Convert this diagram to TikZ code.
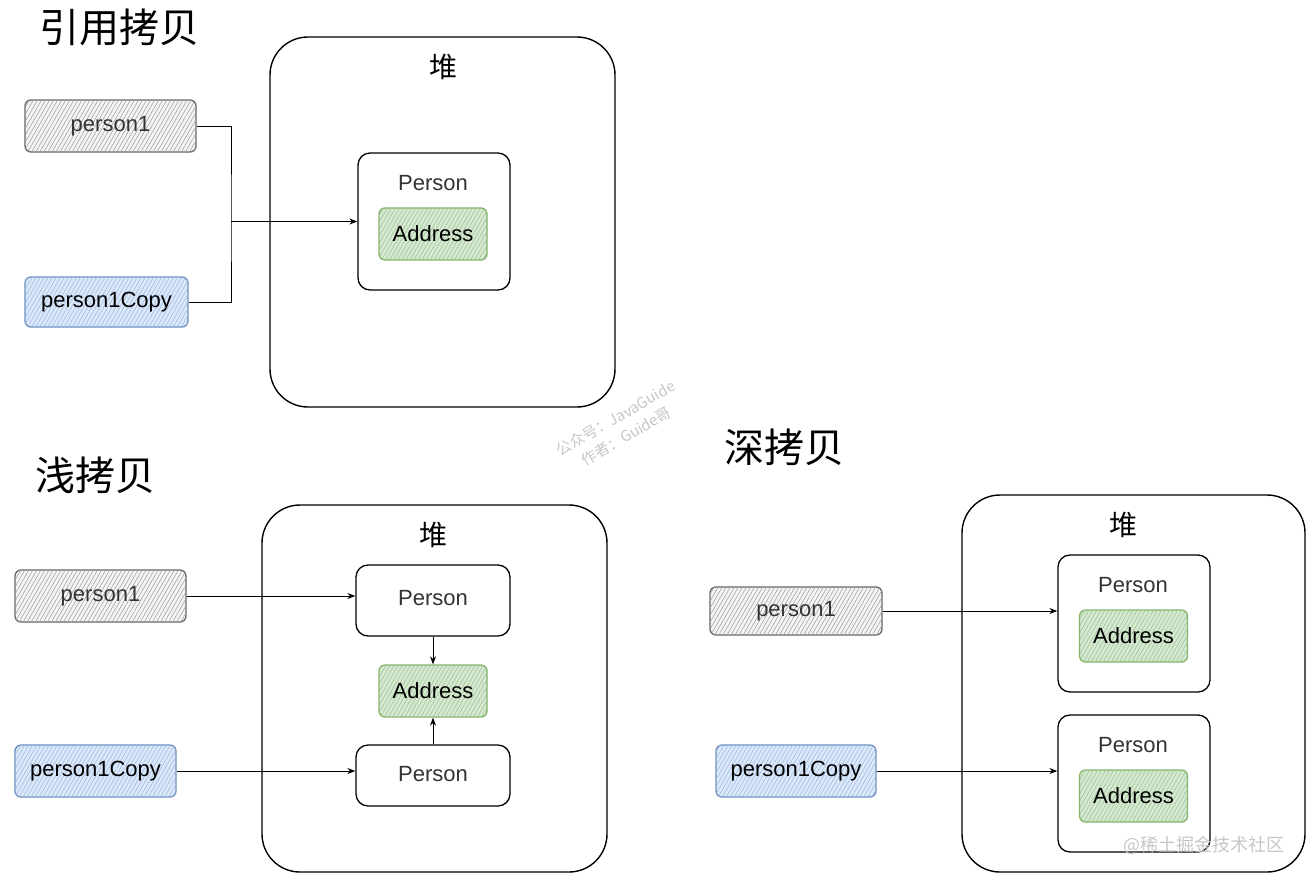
\documentclass[tikz,border=0pt]{standalone}
\usepackage{fontspec}
\setmainfont{Liberation Sans}
\newfontfamily\cjk{Noto Sans CJK SC}
\usetikzlibrary{arrows.meta,patterns.meta}

\definecolor{grayline}{HTML}{666666}
\definecolor{grayfill}{HTML}{F5F5F5}
\definecolor{blueline}{HTML}{6C8EBF}
\definecolor{bluefill}{HTML}{DAE8FC}
\definecolor{greenline}{HTML}{82B366}
\definecolor{greenfill}{HTML}{D5E8D4}
\definecolor{txt}{HTML}{333333}

\tikzset{
	title/.style={font=\cjk\fontsize{40}{44}\selectfont},
	heaplabel/.style={font=\cjk\fontsize{28}{30}\selectfont},
	heap/.style={draw, line width=1.4pt, rounded corners=38pt, inner sep=0pt},
	obj/.style={draw, line width=1.3pt, rounded corners=12pt, inner sep=0pt, text=txt, font=\fontsize{22}{24}\selectfont},
	var/.style={rounded corners=6pt, line width=1.3pt, inner sep=0pt, font=\fontsize{22}{24}\selectfont},
	hatched/.style={postaction={pattern={Lines[angle=60,distance=3.5pt,line width=0.6pt]}, pattern color=#1}},
	grayvar/.style={var, draw=grayline, fill=grayfill, hatched=grayline!60, text=txt},
	bluevar/.style={var, draw=blueline, fill=bluefill, hatched=blueline!60},
	addr/.style={var, draw=greenline, fill=greenfill, hatched=greenline!75, minimum width=108, minimum height=52},
	arr/.style={-{Stealth[length=8pt,width=6pt]}, line width=1pt},
	conn/.style={line width=1pt},
	watermark/.style={text=gray!45, font=\cjk\fontsize{15}{21}\selectfont}
}

\begin{document}
\begin{tikzpicture}[x=1pt,y=-1pt]
	\useasboundingbox (0,0) rectangle (1308,879);
	
	% reference copy
	\node[title] (titleA) at (119,27) {引用拷贝};
	\node[heap, minimum width=345, minimum height=370] (heapA) at (442.5,222) {};
	\node[heaplabel] (heapAlabel) at (443,67) {堆};
	\node[obj, minimum width=152, minimum height=137] (persA) at (434,221.5) {};
	\node[obj, draw=none] (persAlabel) at (433,183) {Person};
	\node[addr] (addrA) at (433,234) {Address};
	\node[grayvar, minimum width=171, minimum height=52] (p1A) at (110.5,126) {person1};
	\node[bluevar, minimum width=163, minimum height=50] (p1cA) at (106.5,302) {person1Copy};
	\coordinate (joinA) at (231,221.5);
	
	\draw[conn] (p1A.east) -| (joinA) |- (p1cA.east);
	\draw[arr] (joinA) -- (persA.west);
	
	% shallow copy
	\node[title] (titleB) at (95,475) {浅拷贝};
	\node[heap, minimum width=345, minimum height=367] (heapB) at (434.5,688.5) {};
	\node[heaplabel] (heapBlabel) at (433,535) {堆};
	\node[obj, minimum width=154, minimum height=71, text depth=5pt] (persB1) at (433,600.5) {Person};
	\node[addr] (addrB) at (433,691) {Address};
	\node[obj, minimum width=154, minimum height=61, text depth=4pt] (persB2) at (433,775.5) {Person};
	\node[grayvar, minimum width=171, minimum height=52] (p1B) at (100.5,596) {person1};
	\node[bluevar, minimum width=161, minimum height=52] (p1cB) at (95.5,771) {person1Copy};
	
	\draw[arr] (p1B.east) -- (p1B.east -| persB1.west);
	\draw[arr] (p1cB.east) -- (p1cB.east -| persB2.west);
	\draw[arr] (persB1.south) -- (addrB.north);
	\draw[arr] (persB2.north) -- (addrB.south);
	
	% deep copy
	\node[title] (titleC) at (784,447) {深拷贝};
	\node[heap, minimum width=343, minimum height=377] (heapC) at (1133.5,683.5) {};
	\node[heaplabel] (heapClabel) at (1123,525) {堆};
	\node[obj, minimum width=152, minimum height=137] (persC1) at (1134,623.5) {};
	\node[obj, draw=none] (persC1label) at (1133,585) {Person};
	\node[addr] (addrC1) at (1133.5,636) {Address};
	\node[obj, minimum width=152, minimum height=137] (persC2) at (1134,783.5) {};
	\node[obj, draw=none] (persC2label) at (1133,745) {Person};
	\node[addr] (addrC2) at (1133.5,796) {Address};
	\node[grayvar, minimum width=172, minimum height=48] (p1C) at (796,611) {person1};
	\node[bluevar, minimum width=160, minimum height=52] (p1cC) at (796,771) {person1Copy};
	
	\draw[arr] (p1C.east) -- (p1C.east -| persC1.west);
	\draw[arr] (p1cC.east) -- (p1cC.east -| persC2.west);
	
	% watermarks
	\node[watermark, rotate=30, align=center] (markA) at (621,427) {公众号：JavaGuide\\作者：Guide哥};
	\node[watermark, font=\cjk\fontsize{18}{20}\selectfont] (markC) at (1204,845) {@稀土掘金技术社区};
\end{tikzpicture}
\end{document}
